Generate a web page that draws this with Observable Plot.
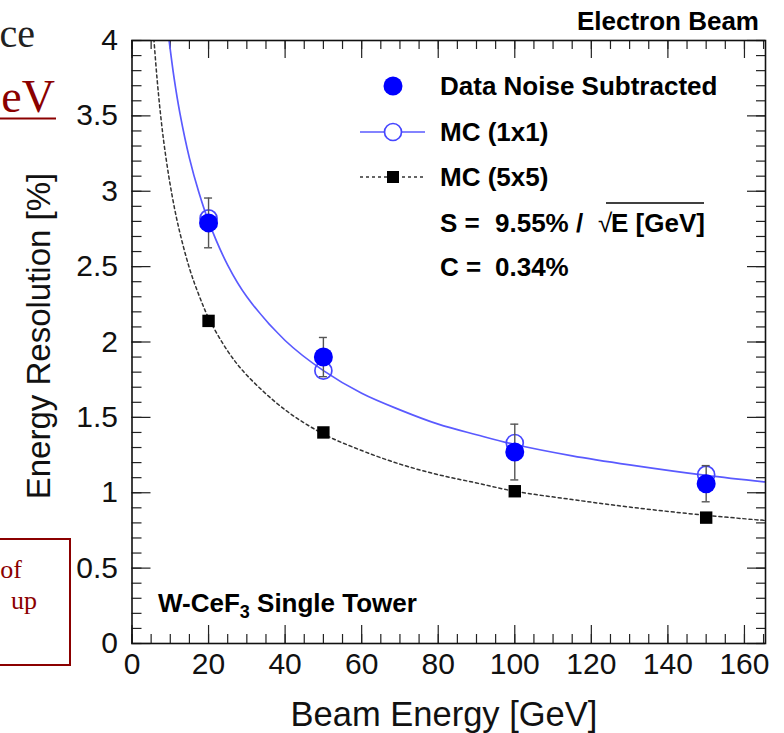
<!DOCTYPE html>
<html>
<head>
<meta charset="utf-8">
<script src="https://cdn.jsdelivr.net/npm/d3@7"></script>
<script src="https://cdn.jsdelivr.net/npm/@observablehq/plot@0.6"></script>
<style>
html, body { margin: 0; padding: 0; background: #fff; }
#wrap { position: relative; width: 784px; height: 733px; overflow: hidden; }
#wrap svg { position: absolute; left: 0; top: 0; }
</style>
</head>
<body>
<div id="wrap"></div>
<script>
// ---------- data ----------
const energies   = [20, 50, 100, 150];
const dataRes    = [2.79, 1.90, 1.27, 1.06];     // Data Noise Subtracted
const dataErr    = [0.165, 0.13, 0.185, 0.12];
const mc1x1      = [2.82, 1.81, 1.33, 1.12];     // MC (1x1)
const mc5x5      = [2.14, 1.40, 1.01, 0.835];    // MC (5x5)

// fitted curves
const fit1x1E = [9.6, 11, 12.5, 15, 17.5, 20, 25, 30, 40, 50, 60, 70, 80, 90, 100, 115, 130, 150, 166];
const fit1x1V = [4.02, 3.75, 3.52, 3.22, 2.99, 2.80, 2.51, 2.30, 2.01, 1.81, 1.66, 1.55, 1.455, 1.385, 1.32, 1.245, 1.185, 1.115, 1.07];
const fit5x5E = [5.6, 6.5, 7.5, 8.5, 10, 12, 15, 17.5, 20, 25, 30, 40, 50, 60, 70, 80, 90, 100, 115, 130, 150, 166];
const fit5x5V = [4.05, 3.76, 3.50, 3.29, 3.04, 2.78, 2.49, 2.31, 2.16, 1.94, 1.78, 1.55, 1.39, 1.28, 1.19, 1.12, 1.065, 1.01, 0.955, 0.905, 0.85, 0.815];

const xMajorTicks = [0, 20, 40, 60, 80, 100, 120, 140, 160];
const yMajorTicks = [0, 0.5, 1, 1.5, 2, 2.5, 3, 3.5, 4];
const xMinorTicks = d3.range(0, 166, 5);
const yMinorTicks = d3.range(0, 41, 1).map(d => d / 10);

const legendLabels = ["Data Noise Subtracted", "MC (1x1)", "MC (5x5)"];
const fitS = "9.55%";
const fitC = "0.34%";
const xTitle = "Beam Energy [GeV]";
const yTitle = "Energy Resolution [%]";

// ---------- tables ----------
const pts = energies.map((e, i) => ({
  E: e, data: dataRes[i], lo: dataRes[i] - dataErr[i], hi: dataRes[i] + dataErr[i],
  mc1: mc1x1[i], mc5: mc5x5[i]
}));
const curve1 = fit1x1E.map((e, i) => ({E: e, v: fit1x1V[i]}));
const curve5 = fit5x5E.map((e, i) => ({E: e, v: fit5x5V[i]}));

// ---------- layout ----------
const W = 784, H = 733;
const mL = 131.5, mR = 19, mT = 40, mB = 90;
const fh = H - mT - mB, fw = W - mL - mR;
const font = '"Liberation Sans", Arial, Helvetica, sans-serif';
const serif = '"Liberation Serif", "Times New Roman", serif';
const major = 18, minor = 9;
const tickStroke = "#222";

const chart = Plot.plot({
  width: W, height: H,
  marginLeft: mL, marginRight: mR, marginTop: mT, marginBottom: mB,
  style: {fontFamily: font, fontSize: "30px", color: "#111", background: "transparent"},
  x: {domain: [0, 165.5]},
  y: {domain: [0, 4]},
  marks: [
    // tick marks, inside the frame on all four sides
    Plot.tickX(xMinorTicks, {x: d => d, insetTop: fh - minor, stroke: tickStroke, strokeWidth: 1.2}),
    Plot.tickX(xMajorTicks, {x: d => d, insetTop: fh - major, stroke: tickStroke, strokeWidth: 1.2}),
    Plot.tickX(xMinorTicks, {x: d => d, insetBottom: fh - minor, stroke: tickStroke, strokeWidth: 1.2}),
    Plot.tickX(xMajorTicks, {x: d => d, insetBottom: fh - major, stroke: tickStroke, strokeWidth: 1.2}),
    Plot.tickY(yMinorTicks, {y: d => d, insetRight: fw - minor - 1, stroke: tickStroke, strokeWidth: 1.2}),
    Plot.tickY(yMajorTicks, {y: d => d, insetRight: fw - major - 1, stroke: tickStroke, strokeWidth: 1.2}),
    Plot.tickY(yMinorTicks, {y: d => d, insetLeft: fw - minor, stroke: tickStroke, strokeWidth: 1.2}),
    Plot.tickY(yMajorTicks, {y: d => d, insetLeft: fw - major, stroke: tickStroke, strokeWidth: 1.2}),
    Plot.axisX({ticks: xMajorTicks, tickSize: 0, tickPadding: 9, label: null, fontSize: 30, tickFormat: d => String(d)}),
    Plot.axisY({ticks: yMajorTicks, tickSize: 0, tickPadding: 14, label: null, fontSize: 30, tickFormat: d => String(d)}),
    // fitted curves
    Plot.line(curve5, {x: "E", y: "v", stroke: "#333", strokeWidth: 1.5, strokeDasharray: "3,3", curve: "catmull-rom", clip: true}),
    Plot.line(curve1, {x: "E", y: "v", stroke: "#5a5aff", strokeWidth: 1.7, curve: "catmull-rom", clip: true}),
    // markers
    Plot.dot(pts, {x: "E", y: "mc5", symbol: "square", r: 7, fill: "#000", stroke: "none"}),
    Plot.dot(pts, {x: "E", y: "mc1", r: 8.5, fill: "none", stroke: "#4646ff", strokeWidth: 1.7}),
    Plot.ruleX(pts, {x: "E", y1: "lo", y2: "hi", stroke: "#555", strokeWidth: 1.4}),
    Plot.ruleY(pts, {y: "lo", x1: "E", x2: "E", insetLeft: -4, insetRight: -4, stroke: "#555", strokeWidth: 1.4}),
    Plot.ruleY(pts, {y: "hi", x1: "E", x2: "E", insetLeft: -4, insetRight: -4, stroke: "#555", strokeWidth: 1.4}),
    Plot.dot(pts, {x: "E", y: "data", r: 9.5, fill: "#0000ff", stroke: "none"}),
    Plot.frame({stroke: "#111", strokeWidth: 1.6})
  ]
});

document.getElementById("wrap").appendChild(chart);

// ---------- annotations ----------
const svg = d3.select(chart);
const g = svg.append("g").attr("font-family", font).attr("fill", "#000").attr("text-anchor", "start");

// axis titles
g.append("text").text(yTitle)
  .attr("transform", "translate(50,336) rotate(-90)")
  .attr("text-anchor", "middle").attr("font-size", 33).attr("fill", "#111");
g.append("text").text(xTitle)
  .attr("x", 444).attr("y", 726)
  .attr("text-anchor", "middle").attr("font-size", 34.5).attr("fill", "#111");

// top-right label
g.append("text").text("Electron Beam")
  .attr("x", 759).attr("y", 30).attr("text-anchor", "end")
  .attr("font-size", 26).attr("font-weight", "bold");

// detector label
const wt = g.append("text").attr("x", 158).attr("y", 612).attr("font-size", 26).attr("font-weight", "bold");
wt.append("tspan").text("W-CeF");
wt.append("tspan").text("3").attr("font-size", 18).attr("dy", 6);
wt.append("tspan").text(" Single Tower").attr("dy", -6);

// legend
const lx = 393, tx = 440;
const rows = [86, 132, 177, 223, 267];
g.append("circle").attr("cx", lx).attr("cy", rows[0]).attr("r", 9.5).attr("fill", "#0000ff");
g.append("line").attr("x1", 360).attr("x2", 425).attr("y1", rows[1]).attr("y2", rows[1])
  .attr("stroke", "#5a5aff").attr("stroke-width", 1.7);
g.append("circle").attr("cx", lx).attr("cy", rows[1]).attr("r", 8.5)
  .attr("fill", "#fff").attr("stroke", "#4646ff").attr("stroke-width", 1.7);
g.append("line").attr("x1", 360).attr("x2", 424).attr("y1", rows[2]).attr("y2", rows[2])
  .attr("stroke", "#333").attr("stroke-width", 1.5).attr("stroke-dasharray", "3,3");
g.append("rect").attr("x", lx - 6).attr("y", rows[2] - 6).attr("width", 12).attr("height", 12).attr("fill", "#000");
legendLabels.forEach((t, i) => {
  g.append("text").text(t).attr("x", tx).attr("y", rows[i]).attr("dy", "0.36em")
    .attr("font-size", 26).attr("font-weight", "bold");
});
const sText = g.append("text").attr("y", rows[3]).attr("dy", "0.36em").attr("font-size", 26).attr("font-weight", "bold");
sText.append("tspan").attr("x", tx).text("S =");
sText.append("tspan").attr("x", 495).text(fitS + " /");
sText.append("tspan").attr("x", 598).attr("font-weight", "normal").text("\u221A");
sText.append("tspan").attr("x", 611).text("E [GeV]");
g.append("line").attr("x1", 606).attr("x2", 704).attr("y1", 203).attr("y2", 203)
  .attr("stroke", "#000").attr("stroke-width", 1.3);
const cText = g.append("text").attr("y", rows[4]).attr("dy", "0.36em").attr("font-size", 26).attr("font-weight", "bold");
cText.append("tspan").attr("x", tx).text("C =");
cText.append("tspan").attr("x", 495).text(fitC);

// fragments of the surrounding slide
const s = svg.append("g").attr("font-family", serif).attr("text-anchor", "end");
s.append("text").text("ce").attr("x", 35).attr("y", 47)
  .attr("font-size", 40).attr("fill", "#222");
s.append("text").text("eV").attr("x", 55).attr("y", 112)
  .attr("font-size", 46).attr("fill", "#8b0000");
s.append("line").attr("x1", 0).attr("x2", 56).attr("y1", 118.5).attr("y2", 118.5)
  .attr("stroke", "#8b0000").attr("stroke-width", 2);
s.append("rect").attr("x", -20).attr("y", 539).attr("width", 90).attr("height", 126)
  .attr("fill", "none").attr("stroke", "#8b0000").attr("stroke-width", 2);
s.append("text").text("of").attr("x", 22).attr("y", 578)
  .attr("font-size", 26).attr("fill", "#8b0000");
s.append("text").text("up").attr("x", 37).attr("y", 609)
  .attr("font-size", 26).attr("fill", "#8b0000");
</script>
</body>
</html>
